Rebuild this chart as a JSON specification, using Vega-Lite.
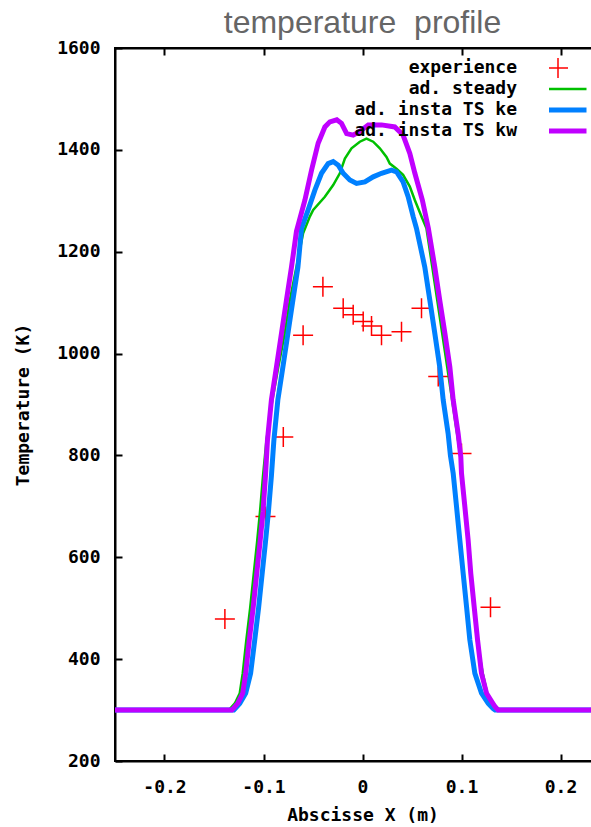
{
  "$schema": "https://vega.github.io/schema/vega-lite/v6.json",
  "width": 495,
  "height": 713,
  "autosize": {"type": "none"},
  "padding": {"left": 115, "top": 48, "right": 0, "bottom": 66},
  "background": "white",
  "title": {"text": "temperature\u00a0 profile", "font": "Liberation Sans", "fontSize": 32, "fontWeight": "normal", "color": "#666666", "anchor": "middle", "baseline": "alphabetic", "offset": -26},
  "config": {
    "view": {"stroke": "black", "strokeWidth": 2},
    "axis": {"domainColor": "black", "domainWidth": 2, "tickColor": "black", "tickWidth": 2, "tickSize": -7, "grid": false, "labelFont": "DejaVu Sans Mono", "labelFontWeight": "bold", "labelFontSize": 18, "labelColor": "black", "titleFont": "DejaVu Sans Mono", "titleFontWeight": "bold", "titleFontSize": 18, "titleColor": "black"},
    "legend": {"padding": 0}
  },
  "data": {"values": [
    {"series": "experience", "x": -0.139, "y": 479},
    {"series": "experience", "x": -0.098, "y": 680},
    {"series": "experience", "x": -0.08, "y": 836},
    {"series": "experience", "x": -0.06, "y": 1036},
    {"series": "experience", "x": -0.04, "y": 1131},
    {"series": "experience", "x": -0.0195, "y": 1089},
    {"series": "experience", "x": -0.0094, "y": 1076},
    {"series": "experience", "x": 0.0007, "y": 1063},
    {"series": "experience", "x": 0.0091, "y": 1054},
    {"series": "experience", "x": 0.0192, "y": 1036},
    {"series": "experience", "x": 0.0394, "y": 1043},
    {"series": "experience", "x": 0.0596, "y": 1089},
    {"series": "experience", "x": 0.0765, "y": 955},
    {"series": "experience", "x": 0.1, "y": 804},
    {"series": "experience", "x": 0.1293, "y": 502},

    {"series": "ad. steady", "x": -0.25, "y": 300},
    {"series": "ad. steady", "x": -0.135, "y": 300},
    {"series": "ad. steady", "x": -0.129, "y": 313},
    {"series": "ad. steady", "x": -0.124, "y": 333},
    {"series": "ad. steady", "x": -0.121, "y": 372},
    {"series": "ad. steady", "x": -0.1175, "y": 435},
    {"series": "ad. steady", "x": -0.1135, "y": 500},
    {"series": "ad. steady", "x": -0.11, "y": 565},
    {"series": "ad. steady", "x": -0.1065, "y": 630},
    {"series": "ad. steady", "x": -0.1035, "y": 690},
    {"series": "ad. steady", "x": -0.1005, "y": 760},
    {"series": "ad. steady", "x": -0.097, "y": 830},
    {"series": "ad. steady", "x": -0.091, "y": 909},
    {"series": "ad. steady", "x": -0.085, "y": 974},
    {"series": "ad. steady", "x": -0.0785, "y": 1040},
    {"series": "ad. steady", "x": -0.0734, "y": 1105},
    {"series": "ad. steady", "x": -0.0667, "y": 1170},
    {"series": "ad. steady", "x": -0.06, "y": 1236},
    {"series": "ad. steady", "x": -0.0532, "y": 1269},
    {"series": "ad. steady", "x": -0.0498, "y": 1282},
    {"series": "ad. steady", "x": -0.038, "y": 1308},
    {"series": "ad. steady", "x": -0.0296, "y": 1331},
    {"series": "ad. steady", "x": -0.0229, "y": 1354},
    {"series": "ad. steady", "x": -0.0178, "y": 1383},
    {"series": "ad. steady", "x": -0.0111, "y": 1403},
    {"series": "ad. steady", "x": -0.0027, "y": 1416},
    {"series": "ad. steady", "x": 0.004, "y": 1422},
    {"series": "ad. steady", "x": 0.0108, "y": 1416},
    {"series": "ad. steady", "x": 0.0175, "y": 1403},
    {"series": "ad. steady", "x": 0.0242, "y": 1386},
    {"series": "ad. steady", "x": 0.0276, "y": 1373},
    {"series": "ad. steady", "x": 0.0343, "y": 1363},
    {"series": "ad. steady", "x": 0.041, "y": 1351},
    {"series": "ad. steady", "x": 0.0478, "y": 1328},
    {"series": "ad. steady", "x": 0.0529, "y": 1301},
    {"series": "ad. steady", "x": 0.0596, "y": 1269},
    {"series": "ad. steady", "x": 0.0646, "y": 1246},
    {"series": "ad. steady", "x": 0.0705, "y": 1170},
    {"series": "ad. steady", "x": 0.0805, "y": 1040},
    {"series": "ad. steady", "x": 0.0905, "y": 909},
    {"series": "ad. steady", "x": 0.099, "y": 797},
    {"series": "ad. steady", "x": 0.1035, "y": 699},
    {"series": "ad. steady", "x": 0.1095, "y": 568},
    {"series": "ad. steady", "x": 0.1155, "y": 438},
    {"series": "ad. steady", "x": 0.1215, "y": 372},
    {"series": "ad. steady", "x": 0.126, "y": 333},
    {"series": "ad. steady", "x": 0.132, "y": 313},
    {"series": "ad. steady", "x": 0.137, "y": 303},
    {"series": "ad. steady", "x": 0.139, "y": 300},
    {"series": "ad. steady", "x": 0.25, "y": 300},

    {"series": "ad. insta TS ke", "x": -0.25, "y": 300},
    {"series": "ad. insta TS ke", "x": -0.13, "y": 300},
    {"series": "ad. insta TS ke", "x": -0.124, "y": 313},
    {"series": "ad. insta TS ke", "x": -0.118, "y": 333},
    {"series": "ad. insta TS ke", "x": -0.113, "y": 372},
    {"series": "ad. insta TS ke", "x": -0.109, "y": 435},
    {"series": "ad. insta TS ke", "x": -0.105, "y": 500},
    {"series": "ad. insta TS ke", "x": -0.1015, "y": 565},
    {"series": "ad. insta TS ke", "x": -0.098, "y": 630},
    {"series": "ad. insta TS ke", "x": -0.095, "y": 690},
    {"series": "ad. insta TS ke", "x": -0.092, "y": 760},
    {"series": "ad. insta TS ke", "x": -0.0895, "y": 830},
    {"series": "ad. insta TS ke", "x": -0.0855, "y": 909},
    {"series": "ad. insta TS ke", "x": -0.0804, "y": 974},
    {"series": "ad. insta TS ke", "x": -0.0753, "y": 1040},
    {"series": "ad. insta TS ke", "x": -0.0703, "y": 1105},
    {"series": "ad. insta TS ke", "x": -0.0652, "y": 1170},
    {"series": "ad. insta TS ke", "x": -0.0616, "y": 1246},
    {"series": "ad. insta TS ke", "x": -0.0549, "y": 1282},
    {"series": "ad. insta TS ke", "x": -0.0481, "y": 1321},
    {"series": "ad. insta TS ke", "x": -0.0414, "y": 1354},
    {"series": "ad. insta TS ke", "x": -0.0347, "y": 1373},
    {"series": "ad. insta TS ke", "x": -0.0296, "y": 1377},
    {"series": "ad. insta TS ke", "x": -0.0245, "y": 1370},
    {"series": "ad. insta TS ke", "x": -0.0195, "y": 1354},
    {"series": "ad. insta TS ke", "x": -0.0128, "y": 1341},
    {"series": "ad. insta TS ke", "x": -0.006, "y": 1334},
    {"series": "ad. insta TS ke", "x": 0.0024, "y": 1337},
    {"series": "ad. insta TS ke", "x": 0.0108, "y": 1347},
    {"series": "ad. insta TS ke", "x": 0.0192, "y": 1354},
    {"series": "ad. insta TS ke", "x": 0.0293, "y": 1360},
    {"series": "ad. insta TS ke", "x": 0.0343, "y": 1357},
    {"series": "ad. insta TS ke", "x": 0.041, "y": 1337},
    {"series": "ad. insta TS ke", "x": 0.0461, "y": 1308},
    {"series": "ad. insta TS ke", "x": 0.0512, "y": 1269},
    {"series": "ad. insta TS ke", "x": 0.0545, "y": 1246},
    {"series": "ad. insta TS ke", "x": 0.0629, "y": 1170},
    {"series": "ad. insta TS ke", "x": 0.068, "y": 1105},
    {"series": "ad. insta TS ke", "x": 0.073, "y": 1040},
    {"series": "ad. insta TS ke", "x": 0.078, "y": 974},
    {"series": "ad. insta TS ke", "x": 0.0815, "y": 909},
    {"series": "ad. insta TS ke", "x": 0.0865, "y": 843},
    {"series": "ad. insta TS ke", "x": 0.0888, "y": 800},
    {"series": "ad. insta TS ke", "x": 0.0916, "y": 765},
    {"series": "ad. insta TS ke", "x": 0.095, "y": 699},
    {"series": "ad. insta TS ke", "x": 0.0983, "y": 634},
    {"series": "ad. insta TS ke", "x": 0.1017, "y": 568},
    {"series": "ad. insta TS ke", "x": 0.1051, "y": 503},
    {"series": "ad. insta TS ke", "x": 0.1084, "y": 438},
    {"series": "ad. insta TS ke", "x": 0.1135, "y": 372},
    {"series": "ad. insta TS ke", "x": 0.1202, "y": 333},
    {"series": "ad. insta TS ke", "x": 0.127, "y": 313},
    {"series": "ad. insta TS ke", "x": 0.132, "y": 303},
    {"series": "ad. insta TS ke", "x": 0.134, "y": 300},
    {"series": "ad. insta TS ke", "x": 0.25, "y": 300},

    {"series": "ad. insta TS kw", "x": -0.25, "y": 300},
    {"series": "ad. insta TS kw", "x": -0.132, "y": 300},
    {"series": "ad. insta TS kw", "x": -0.126, "y": 313},
    {"series": "ad. insta TS kw", "x": -0.121, "y": 333},
    {"series": "ad. insta TS kw", "x": -0.118, "y": 372},
    {"series": "ad. insta TS kw", "x": -0.1145, "y": 435},
    {"series": "ad. insta TS kw", "x": -0.1105, "y": 500},
    {"series": "ad. insta TS kw", "x": -0.107, "y": 565},
    {"series": "ad. insta TS kw", "x": -0.1035, "y": 630},
    {"series": "ad. insta TS kw", "x": -0.1005, "y": 690},
    {"series": "ad. insta TS kw", "x": -0.098, "y": 760},
    {"series": "ad. insta TS kw", "x": -0.096, "y": 830},
    {"series": "ad. insta TS kw", "x": -0.092, "y": 909},
    {"series": "ad. insta TS kw", "x": -0.0869, "y": 974},
    {"series": "ad. insta TS kw", "x": -0.0818, "y": 1040},
    {"series": "ad. insta TS kw", "x": -0.0768, "y": 1105},
    {"series": "ad. insta TS kw", "x": -0.0717, "y": 1170},
    {"series": "ad. insta TS kw", "x": -0.0667, "y": 1240},
    {"series": "ad. insta TS kw", "x": -0.0582, "y": 1301},
    {"series": "ad. insta TS kw", "x": -0.0515, "y": 1360},
    {"series": "ad. insta TS kw", "x": -0.0448, "y": 1413},
    {"series": "ad. insta TS kw", "x": -0.038, "y": 1445},
    {"series": "ad. insta TS kw", "x": -0.033, "y": 1455},
    {"series": "ad. insta TS kw", "x": -0.026, "y": 1459},
    {"series": "ad. insta TS kw", "x": -0.0212, "y": 1452},
    {"series": "ad. insta TS kw", "x": -0.016, "y": 1432},
    {"series": "ad. insta TS kw", "x": -0.0094, "y": 1429},
    {"series": "ad. insta TS kw", "x": -0.0027, "y": 1436},
    {"series": "ad. insta TS kw", "x": 0.0058, "y": 1449},
    {"series": "ad. insta TS kw", "x": 0.0192, "y": 1449},
    {"series": "ad. insta TS kw", "x": 0.0326, "y": 1445},
    {"series": "ad. insta TS kw", "x": 0.041, "y": 1429},
    {"series": "ad. insta TS kw", "x": 0.0478, "y": 1393},
    {"series": "ad. insta TS kw", "x": 0.0529, "y": 1354},
    {"series": "ad. insta TS kw", "x": 0.0605, "y": 1301},
    {"series": "ad. insta TS kw", "x": 0.0665, "y": 1246},
    {"series": "ad. insta TS kw", "x": 0.073, "y": 1170},
    {"series": "ad. insta TS kw", "x": 0.078, "y": 1105},
    {"series": "ad. insta TS kw", "x": 0.0832, "y": 1040},
    {"series": "ad. insta TS kw", "x": 0.0882, "y": 974},
    {"series": "ad. insta TS kw", "x": 0.0916, "y": 909},
    {"series": "ad. insta TS kw", "x": 0.0966, "y": 843},
    {"series": "ad. insta TS kw", "x": 0.0993, "y": 797},
    {"series": "ad. insta TS kw", "x": 0.1, "y": 765},
    {"series": "ad. insta TS kw", "x": 0.1034, "y": 699},
    {"series": "ad. insta TS kw", "x": 0.1067, "y": 634},
    {"series": "ad. insta TS kw", "x": 0.1094, "y": 568},
    {"series": "ad. insta TS kw", "x": 0.1128, "y": 503},
    {"series": "ad. insta TS kw", "x": 0.1162, "y": 438},
    {"series": "ad. insta TS kw", "x": 0.1202, "y": 372},
    {"series": "ad. insta TS kw", "x": 0.1253, "y": 333},
    {"series": "ad. insta TS kw", "x": 0.1337, "y": 307},
    {"series": "ad. insta TS kw", "x": 0.137, "y": 300},
    {"series": "ad. insta TS kw", "x": 0.25, "y": 300}
  ]},
  "resolve": {"axis": {"x": "independent"}},
  "encoding": {
    "x": {"field": "x", "type": "quantitative", "scale": {"domain": [-0.25, 0.25], "nice": false, "zero": false},
          "axis": {"orient": "bottom", "values": [-0.2, -0.1, 0, 0.1, 0.2], "labelExpr": "datum.value == 0 ? '0' : (datum.value < 0 ? '-' + format(-datum.value, '.1f') : format(datum.value, '.1f'))", "labelPadding": 24, "title": "Abscisse X (m)", "titlePadding": 10}},
    "y": {"field": "y", "type": "quantitative", "scale": {"domain": [200, 1600], "nice": false, "zero": false},
          "axis": {"values": [200, 400, 600, 800, 1000, 1200, 1400, 1600], "format": "d", "labelPadding": 22, "title": "Temperature (K)", "titlePadding": 24}},
    "color": {"field": "series", "type": "nominal",
              "scale": {"domain": ["experience", "ad. steady", "ad. insta TS ke", "ad. insta TS kw"], "range": ["#ff0000", "#00c000", "#0080ff", "#c000ff"]},
              "legend": {"title": null, "orient": "none", "legendX": 434, "legendY": 9.5, "symbolType": "stroke", "symbolSize": 3249, "symbolStrokeWidth": 5, "clipHeight": 21, "rowPadding": 0, "labelAlign": "right", "labelOffset": -50, "labelFont": "DejaVu Sans Mono", "labelFontWeight": "bold", "labelFontSize": 18, "labelColor": "black", "labelLimit": 0,
                "encode": {
                  "entries": {"update": {"width": {"value": 70}}},
                  "symbols": {"update": {
                    "shape": {"signal": "datum.value === 'experience' ? 'M-1,0H1M0,-1V1' : 'stroke'"},
                    "size": {"signal": "datum.value === 'experience' ? 400 : 3249"},
                    "strokeWidth": {"signal": "datum.value === 'experience' ? 1.5 : (datum.value === 'ad. steady' ? 2.5 : 5)"},
                    "fill": {"value": "transparent"},
                    "stroke": {"scale": "color", "field": "value"},
                    "opacity": {"value": 1}}}}}}
  },
  "layer": [
    {
      "transform": [{"filter": "datum.series === 'experience'"}],
      "mark": {"type": "point", "shape": "M-1,0H1M0,-1V1", "size": 400, "filled": false, "strokeWidth": 1.5, "opacity": 1}
    },
    {
      "transform": [{"filter": "datum.series === 'ad. steady'"}],
      "mark": {"type": "line", "strokeWidth": 2.5},
      "encoding": {
        "x": {"field": "x", "type": "quantitative", "axis": {"orient": "top", "values": [-0.2, -0.1, 0, 0.1, 0.2], "labels": false, "title": null}}
      }
    },
    {
      "transform": [{"filter": "datum.series === 'ad. insta TS ke'"}],
      "mark": {"type": "line", "strokeWidth": 5},
      "encoding": {
        "x": {"field": "x", "type": "quantitative", "axis": null}
      }
    },
    {
      "transform": [{"filter": "datum.series === 'ad. insta TS kw'"}],
      "mark": {"type": "line", "strokeWidth": 5},
      "encoding": {
        "x": {"field": "x", "type": "quantitative", "axis": null}
      }
    }
  ]
}
